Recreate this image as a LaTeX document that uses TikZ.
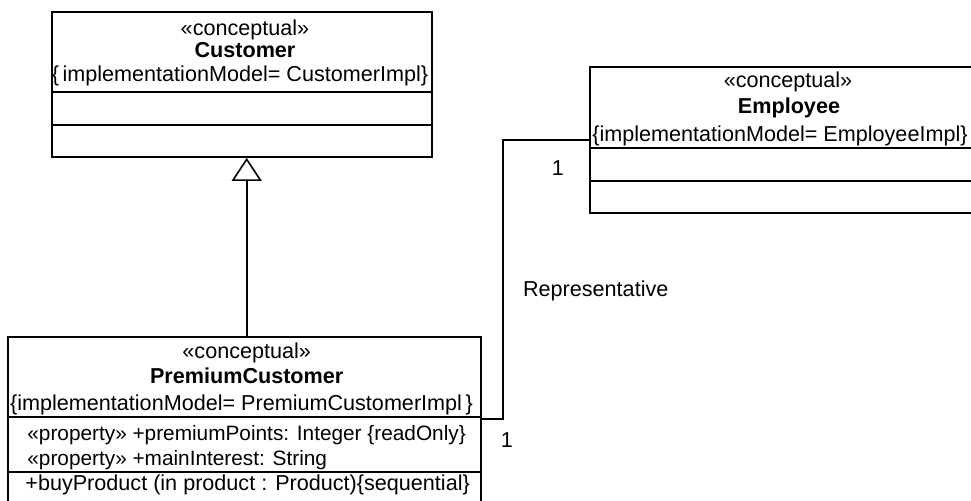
\documentclass[tikz,border=0pt]{standalone}
\usepackage{fontspec}
\setmainfont{Liberation Sans}
\usetikzlibrary{arrows.meta}
\begin{document}
\begin{tikzpicture}[x=0.5pt,y=-0.5pt,
  every node/.style={font=\fontsize{10.8pt}{12pt}\selectfont, inner sep=0pt, text height=0.7em, text depth=0.1em},
  attr/.style={anchor=west, font=\fontsize{10.4pt}{12pt}\selectfont},
  classbox/.style={draw, line width=0.9pt, minimum width=#1, text height=, text depth=},
  sepline/.style={line width=0.9pt},
  assoc/.style={line width=0.7pt},
  gen/.style={line width=0.8pt, -{Triangle[open, length=11.5pt, width=15pt, line width=0.8pt]}}]
\useasboundingbox (0,0) rectangle (971,501);
% Customer
\node[classbox=190pt, minimum height=72.65pt] (cust) at (241.7,84.35) {};
\draw[sepline] (cust.west |- 0,92) -- (cust.east |- 0,92);
\draw[sepline] (cust.west |- 0,125) -- (cust.east |- 0,125);
\node (custst) at (245,30) {«conceptual»};
\node (custnm) at (245,52) {\bfseries Customer};
\node (custim) at (240,76) {\{\,implementationModel= CustomerImpl\}};
% Employee
\node[classbox=200pt, minimum height=72.7pt] (emp) at (790,140) {};
\draw[sepline] (emp.west |- 0,148) -- (emp.east |- 0,148);
\draw[sepline] (emp.west |- 0,180.7) -- (emp.east |- 0,180.7);
\node (empst) at (788,81.7) {«conceptual»};
\node (empnm) at (789,108) {\bfseries Employee};
\node (empim) at (780,136) {\{implementationModel= EmployeeImpl\}};
% PremiumCustomer
\node[classbox=236.5pt, minimum height=83.5pt] (pc) at (244.5,420.5) {};
\draw[sepline] (pc.west |- 0,417) -- (pc.east |- 0,417);
\draw[sepline] (pc.west |- 0,472) -- (pc.east |- 0,472);
\node (pcst) at (246.7,352.7) {«conceptual»};
\node (pcnm) at (246.7,378) {\bfseries PremiumCustomer};
\node (pcim) at (241.5,405) {\{implementationModel= PremiumCustomerImpl\,\}};
\node[attr] (pca1) at (27,435) {«property» +premiumPoints: Integer \{readOnly\}};
\node[attr] (pca2) at (27,459.5) {«property» +mainInterest: String};
\node[anchor=west] (pco1) at (25,484.5) {+buyProduct (in product : Product)\{sequential\}};
% generalization
\draw[gen] (pc.north -| 246.7,0) -- (cust.south -| 246.7,0);
% association
\coordinate (pcR) at (pc.east |- 0,419);
\coordinate (via) at (503,280);
\draw[assoc] (pcR) -| (via) |- (emp.west);
\node (m1) at (558,170) {1};
\node (m2) at (507,442) {1};
\node[anchor=west] (role) at (522.7,290.7) {Representative};
\end{tikzpicture}
\end{document}
